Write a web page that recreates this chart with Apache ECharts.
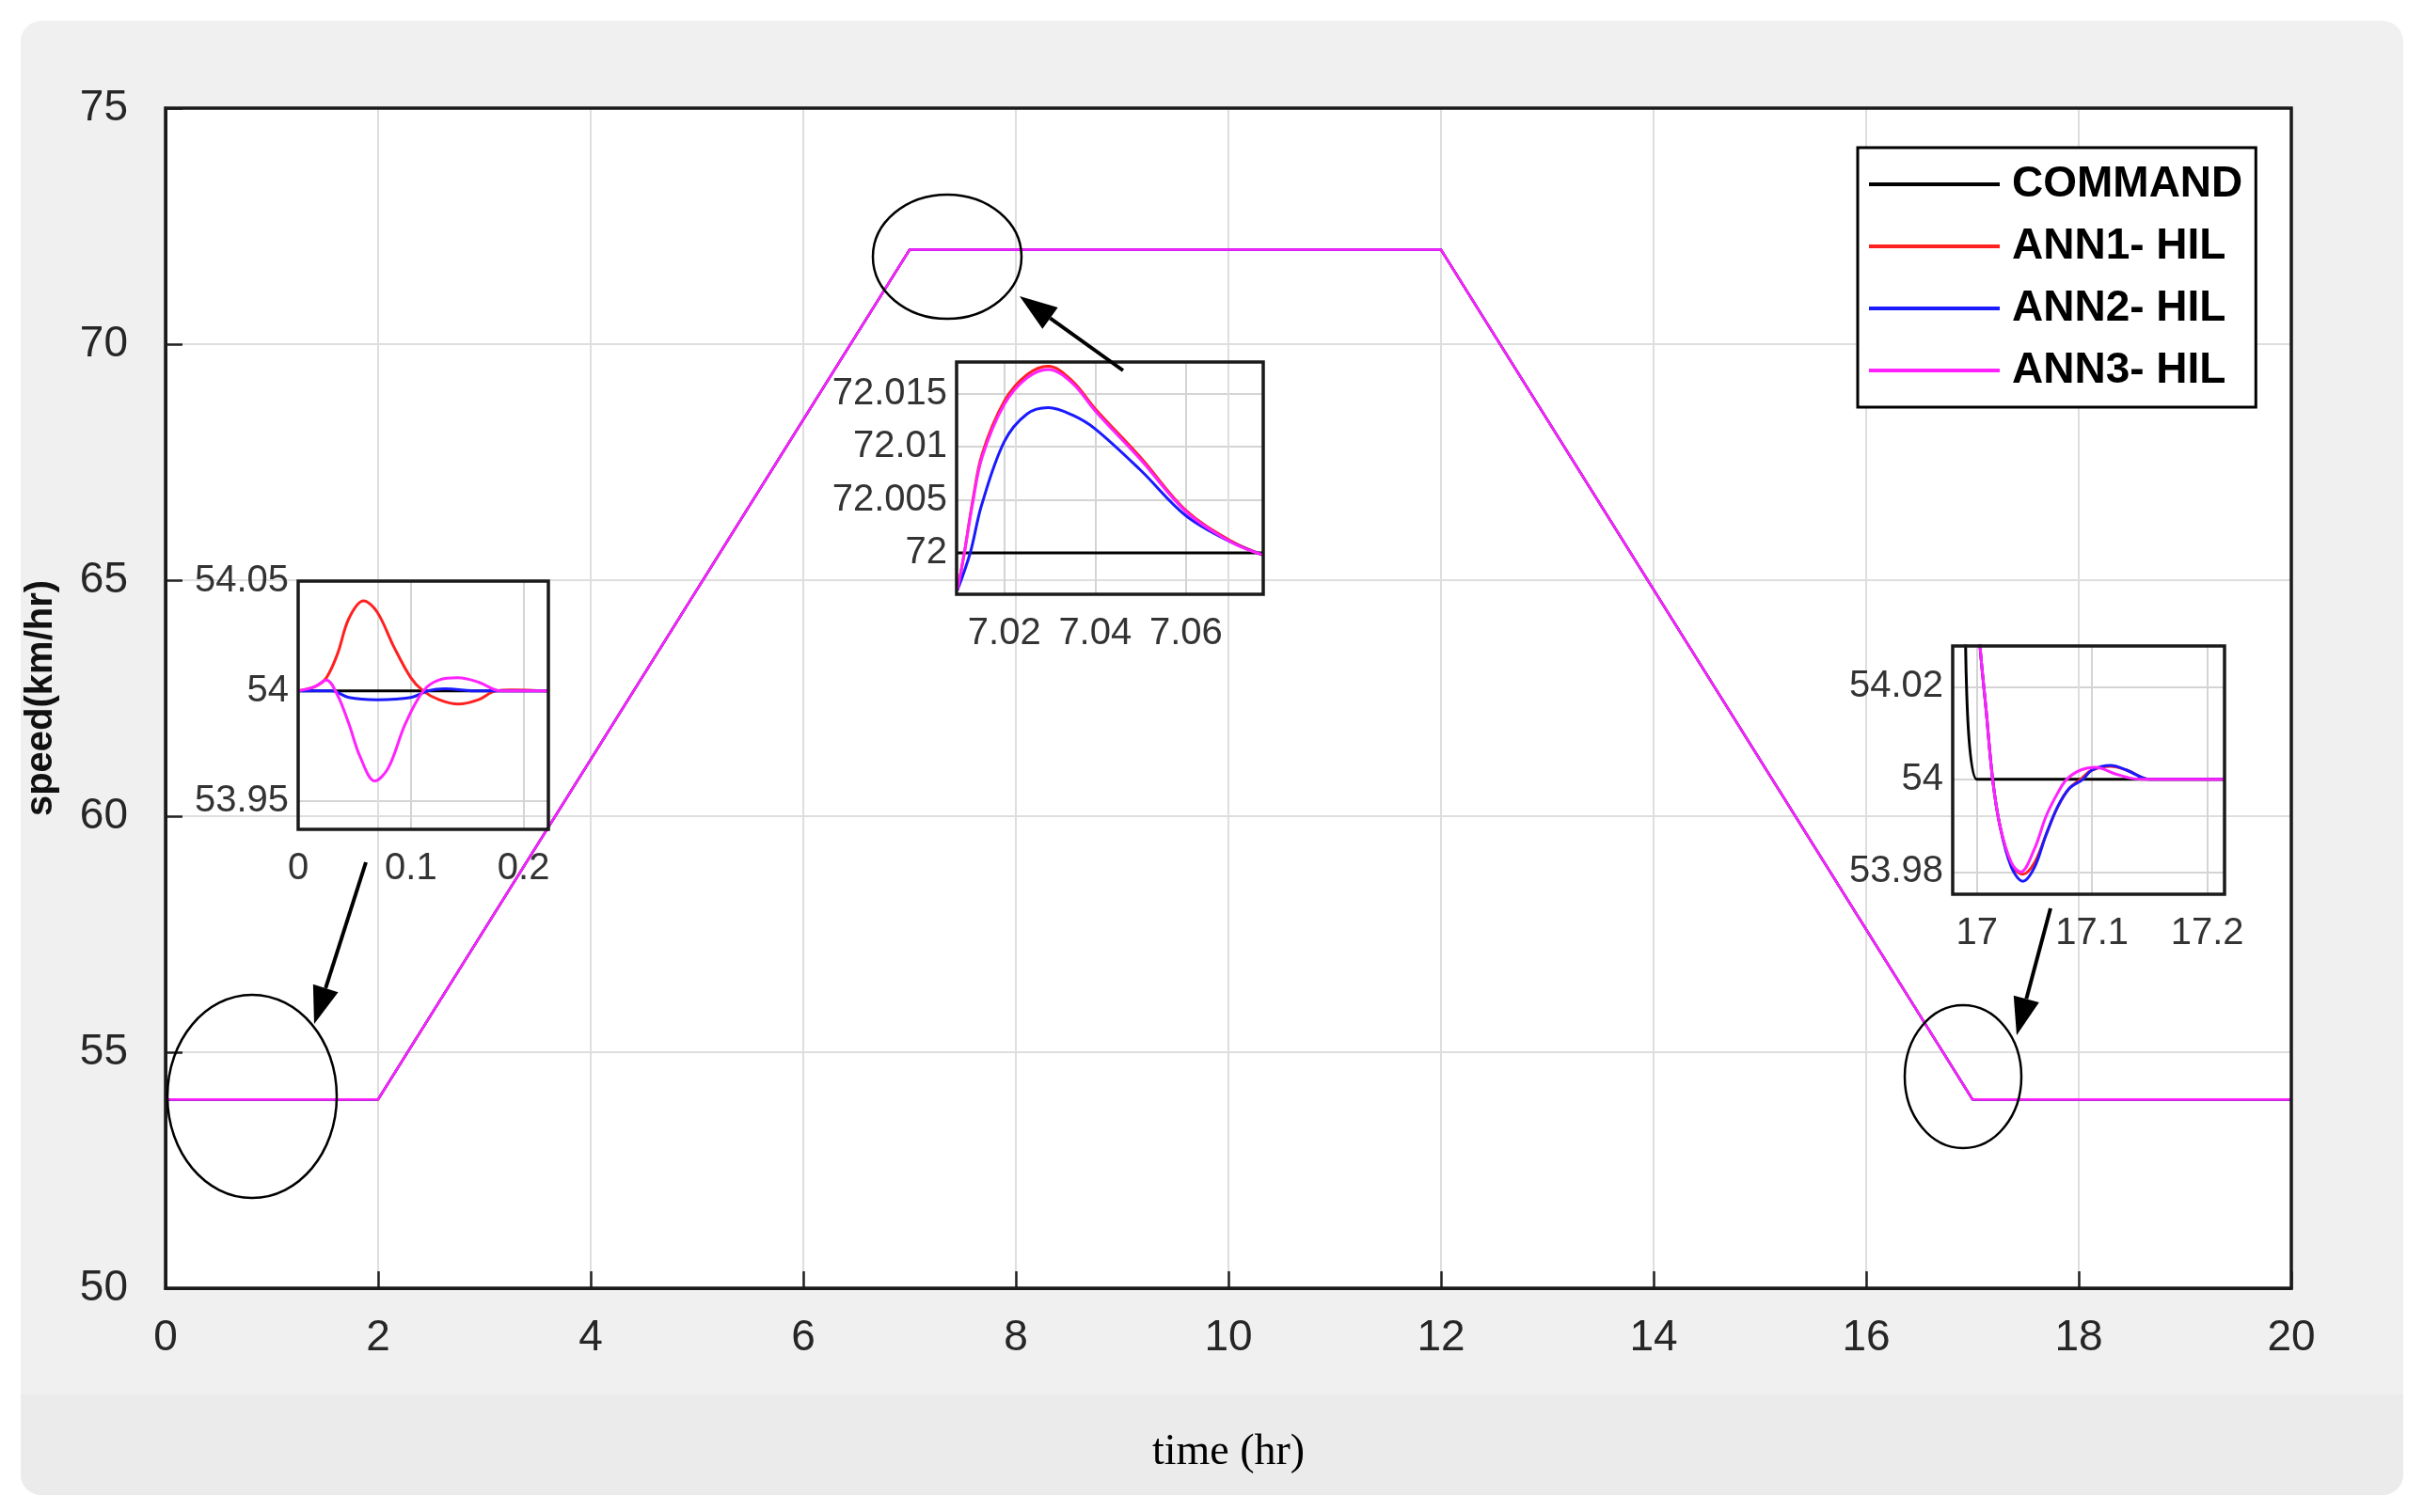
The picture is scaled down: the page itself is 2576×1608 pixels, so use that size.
<!DOCTYPE html>
<html><head><meta charset="utf-8">
<script src="https://cdn.jsdelivr.net/npm/echarts@6/dist/echarts.min.js"></script>
<style>html,body{margin:0;padding:0;background:#fff}#c{width:2576px;height:1608px}</style>
</head><body><div id="c"></div>
<script>
// ---- main profile ----
const mainCommand = [[0,54],[2,54],[7,72],[12,72],[17,54],[20,54]];
const mainANN1 = [[0,54],[2,54],[7,72],[12,72],[17,54],[20,54]];
const mainANN2 = [[0,54],[2,54],[7,72],[12,72],[17,54],[20,54]];
const mainANN3 = [[0,54],[2,54],[7,72],[12,72],[17,54],[20,54]];
const mainXTicks = [0,2,4,6,8,10,12,14,16,18,20];
const mainYTicks = [50,55,60,65,70,75];
// ---- inset 1 (start, 0..0.222 hr) ----
const in1Command = [[0,54],[0.222,54]];
const in1ANN1 = [[0,54],[0.015,54.002],[0.025,54.006],[0.035,54.017],[0.045,54.033],[0.058,54.041],[0.07,54.036],[0.085,54.02],[0.1,54.006],[0.111,54],[0.125,53.996],[0.142,53.994],[0.16,53.996],[0.175,54],[0.19,54.0005],[0.222,54]];
const in1ANN2 = [[0,54],[0.03,54],[0.045,53.997],[0.07,53.996],[0.1,53.997],[0.115,54],[0.13,54.001],[0.16,54],[0.222,54]];
const in1ANN3 = [[0,54],[0.015,54.002],[0.025,54.005],[0.035,53.998],[0.045,53.985],[0.055,53.97],[0.068,53.959],[0.08,53.965],[0.095,53.985],[0.111,54],[0.125,54.005],[0.142,54.006],[0.16,54.004],[0.18,54],[0.222,54]];
const in1XTicks = [0,0.1,0.2];
const in1YTicks = [53.95,54,54.05];
// ---- inset 2 (overshoot at 72) ----
const in2Command = [[7.0095,72],[7.077,72]];
const in2ANN1 = [[7.0097,71.9965],[7.0112,72.0],[7.013,72.0048],[7.0151,72.0093],[7.02,72.0143],[7.025,72.0168],[7.0297,72.0176],[7.035,72.0162],[7.04,72.0136],[7.05,72.009],[7.06,72.004],[7.07,72.0011],[7.077,71.9998]];
const in2ANN2 = [[7.0097,71.9965],[7.0125,72.0],[7.015,72.0045],[7.02,72.0105],[7.025,72.0131],[7.0297,72.0137],[7.035,72.013],[7.04,72.0117],[7.05,72.0078],[7.06,72.0035],[7.07,72.001],[7.077,71.9998]];
const in2ANN3 = [[7.0097,71.9965],[7.0112,72.0],[7.013,72.0046],[7.0151,72.009],[7.02,72.014],[7.025,72.0165],[7.0297,72.0173],[7.035,72.016],[7.04,72.0134],[7.05,72.0088],[7.06,72.0039],[7.07,72.001],[7.077,71.9998]];
const in2XTicks = [7.02,7.04,7.06];
const in2YTicks = [72,72.005,72.01,72.015];
// ---- inset 3 (return to 54) ----
const in3Command = [[16.99,54.036],[17,54],[17.215,54]];
const in3ANN1 = [[17.0,54.04],[17.0027,54.0288],[17.008,54.015],[17.0137,54],[17.02,53.99],[17.03,53.9815],[17.04,53.9795],[17.05,53.982],[17.06,53.988],[17.07,53.994],[17.08,53.998],[17.09,54.0],[17.1,54.002],[17.116,54.0028],[17.13,54.002],[17.15,54.0],[17.215,54]];
const in3ANN2 = [[17.0,54.04],[17.0027,54.0288],[17.008,54.015],[17.0137,54],[17.02,53.99],[17.03,53.981],[17.04,53.978],[17.05,53.981],[17.06,53.988],[17.07,53.994],[17.08,53.998],[17.092,54.0],[17.1,54.002],[17.116,54.003],[17.13,54.002],[17.15,54.0],[17.215,54]];
const in3ANN3 = [[17.0,54.04],[17.0027,54.0288],[17.008,54.015],[17.0137,54],[17.02,53.99],[17.03,53.982],[17.038,53.98],[17.05,53.985],[17.06,53.992],[17.07,53.997],[17.078,54.0],[17.09,54.002],[17.103,54.0026],[17.12,54.0012],[17.135,54.0002],[17.15,54.0],[17.215,54]];
const in3XTicks = [17,17.1,17.2];
const in3YTicks = [53.98,54,54.02];

const names = ['COMMAND','ANN1- HIL','ANN2- HIL','ANN3- HIL'];
const colors = ['#000000','#ff2020','#1a1aff','#ff22ff'];

const chart = echarts.init(document.getElementById('c'));
const F = 'Liberation Sans, Arial, sans-serif';
function insetAxes(idx, xmin, xmax, ymin, ymax, xt, yt) {
  const common = {axisLine:{show:false},
    splitLine:{show:true, lineStyle:{color:'#d4d4d4', width:2}}};
  return {
    x: Object.assign({type:'value', gridIndex:idx, min:xmin, max:xmax,
      axisLabel:{customValues:xt, color:'#333', fontSize:40, fontFamily:F, margin:22, formatter:v=>String(+v.toFixed(3))}},
      common, {axisTick:{show:false, customValues:xt}}),
    y: Object.assign({type:'value', gridIndex:idx, min:ymin, max:ymax,
      axisLabel:{customValues:yt, color:'#333', fontSize:40, fontFamily:F, margin:10, formatter:v=>String(+v.toFixed(3))}},
      common, {axisTick:{show:false, customValues:yt}})
  };
}
const a1 = insetAxes(1, 0, 0.222, 53.937, 54.05, in1XTicks, in1YTicks);
const a2 = insetAxes(2, 7.0095, 7.077, 71.9961, 72.018, in2XTicks, in2YTicks);
const a3 = insetAxes(3, 16.979, 17.215, 53.9752, 54.0288, in3XTicks, in3YTicks);

function lineSeries(name, data, ci, xi, w) {
  return {type:'line', name:name, data:data, xAxisIndex:xi, yAxisIndex:xi, showSymbol:false, symbol:'none',
    smooth: xi>0 ? 0.35 : false, clip:true, lineStyle:{color:colors[ci], width:w}, itemStyle:{color:colors[ci]},
    animation:false, z: 2+ci};
}
const series = [];
[[mainCommand,mainANN1,mainANN2,mainANN3],[in1Command,in1ANN1,in1ANN2,in1ANN3],
 [in2Command,in2ANN1,in2ANN2,in2ANN3],[in3Command,in3ANN1,in3ANN2,in3ANN3]].forEach((set,gi)=>{
  set.forEach((d,ci)=>series.push(lineSeries(names[ci], d, ci, gi, gi===0?2.5:3)));
});

function arrow(x1,y1,x2,y2){
  const ang=Math.atan2(y2-y1,x2-x1), L=40, W=14;
  const bx=x2-L*Math.cos(ang), by=y2-L*Math.sin(ang);
  const px=-Math.sin(ang)*W, py=Math.cos(ang)*W;
  return [
    {type:'line', z:100, shape:{x1:x1,y1:y1,x2:bx,y2:by}, style:{stroke:'#000', lineWidth:4}},
    {type:'polygon', z:100, shape:{points:[[x2,y2],[bx+px,by+py],[bx-px,by-py]]}, style:{fill:'#000'}}
  ];
}
const grids = [
  {left:176, top:115, width:2260, height:1255},
  {left:317, top:618, width:266, height:264},
  {left:1017, top:385, width:326, height:247},
  {left:2076, top:687, width:289, height:264}
];
const frames = grids.map(g=>({type:'rect', z:90, shape:{x:g.left,y:g.top,width:g.width,height:g.height},
  style:{fill:null, stroke:'#1a1a1a', lineWidth:3.5}}));

chart.setOption({
  animation:false,
  backgroundColor:'#ffffff',
  graphic:[
    {type:'rect', z:-100, shape:{x:22,y:22,width:2533,height:1568,r:22}, style:{fill:'#f0f0f0'}},
    {type:'rect', z:-99, shape:{x:22,y:1483,width:2533,height:107,r:[0,0,22,22]}, style:{fill:'#ebebeb'}},
    ...frames,
    {type:'ellipse', z:100, shape:{cx:268,cy:1166,rx:90,ry:108}, style:{fill:null, stroke:'#000', lineWidth:2.5}},
    {type:'ellipse', z:100, shape:{cx:1007,cy:273,rx:79,ry:66}, style:{fill:null, stroke:'#000', lineWidth:2.5}},
    {type:'ellipse', z:100, shape:{cx:2087,cy:1145,rx:62,ry:76}, style:{fill:null, stroke:'#000', lineWidth:2.5}},
    ...arrow(389,917,334,1089),
    ...arrow(1194,394,1084,315),
    ...arrow(2180,966,2144,1101)
  ],
  legend:{data:names, orient:'vertical', left:1975, top:157, itemWidth:139, itemHeight:4, icon:'rect',
    itemGap:16, backgroundColor:'#fff', borderColor:'#000', borderWidth:3, padding:[14,14,14,12],
    textStyle:{fontSize:46, fontWeight:'bold', fontFamily:F, color:'#000', lineHeight:50, padding:[0,0,0,8]},
    selectedMode:false},
  grid: grids.map(g=>Object.assign({show:true, backgroundColor:'#fff', borderWidth:0}, g)),
  xAxis:[
    {type:'value', gridIndex:0, min:0, max:20, interval:2,
      name:'time (hr)', nameLocation:'middle', nameGap:152,
      nameTextStyle:{fontSize:46, fontFamily:'Liberation Serif, DejaVu Serif, serif', color:'#000'},
      axisLine:{show:true, lineStyle:{color:'#1a1a1a', width:3}},
      axisTick:{show:true, inside:true, length:18, lineStyle:{color:'#222', width:2.5}},
      axisLabel:{fontSize:46, color:'#262626', fontFamily:F, margin:30},
      splitLine:{show:true, lineStyle:{color:'#dedede', width:2}}},
    a1.x, a2.x, a3.x
  ],
  yAxis:[
    {type:'value', gridIndex:0, min:50, max:75, interval:5,
      name:'speed(km/hr)', nameLocation:'middle', nameGap:112, nameRotate:90,
      nameTextStyle:{fontSize:40, fontWeight:'bold', fontFamily:F, color:'#111'},
      axisLine:{show:true, lineStyle:{color:'#1a1a1a', width:3}},
      axisTick:{show:true, inside:true, length:18, lineStyle:{color:'#222', width:2.5}},
      axisLabel:{fontSize:46, color:'#262626', fontFamily:F, margin:40},
      splitLine:{show:true, lineStyle:{color:'#dedede', width:2}}},
    a1.y, a2.y, a3.y
  ],
  series:series
});
</script></body></html>
